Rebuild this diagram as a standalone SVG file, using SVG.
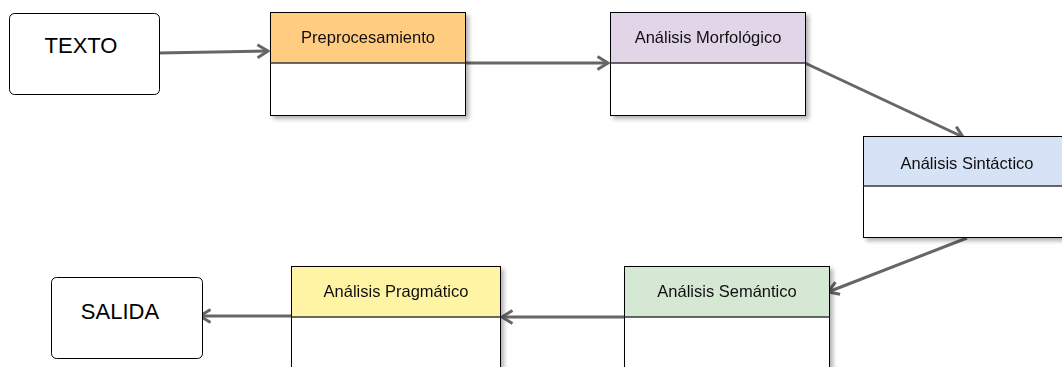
<svg xmlns="http://www.w3.org/2000/svg" width="1062" height="367" viewBox="0 0 1062 367">
  <style>
    .term { fill: #ffffff; stroke: #000000; stroke-width: 1; }
    .body { fill: #ffffff; stroke: #000000; stroke-width: 1; }
    .divider { stroke: #555555; stroke-width: 1.2; }
    .big { font-family: "Liberation Sans", Arial, sans-serif; font-size: 22px; fill: #000000; text-anchor: middle; }
    .head { font-family: "Liberation Sans", Arial, sans-serif; font-size: 16.5px; fill: #111111; text-anchor: middle; }
    .edge { fill: none; stroke: #666666; stroke-width: 3; marker-end: url(#open); }
  </style>
  <defs>
    <filter id="shadow" x="-10%" y="-10%" width="130%" height="140%">
      <feDropShadow dx="3" dy="3" stdDeviation="2" flood-color="#000000" flood-opacity="0.3"/>
    </filter>
    <marker id="open" viewBox="0 0 14 16" markerWidth="14" markerHeight="16" refX="12" refY="8" orient="auto" markerUnits="userSpaceOnUse">
      <path d="M1.5,1.5 L12,8 L1.5,14.5" fill="none" stroke="#666666" stroke-width="3" stroke-linejoin="miter"/>
    </marker>
  </defs>

  <!-- connectors -->
  <g id="connectors">
    <path class="edge" d="M159,53 L268,51"/>
    <path class="edge" d="M465,63 L608,63"/>
    <path class="edge" d="M805,63 L963,137"/>
    <path class="edge" d="M967,238 L828,292"/>
    <path class="edge" d="M624,317 L502,317"/>
    <path class="edge" d="M291,316 L200,316"/>
  </g>

  <!-- input terminal -->
  <g id="texto">
    <rect class="term" x="9.5" y="13.5" width="150" height="81" rx="5"/>
    <text class="big" x="81" y="53">TEXTO</text>
  </g>

  <!-- processing stages -->
  <g id="preprocesamiento" filter="url(#shadow)">
    <rect class="body" x="270.5" y="12.5" width="195" height="103"/>
    <rect x="270.5" y="12.5" width="195" height="50.5" fill="#ffcc80" stroke="#000000"/>
    <line class="divider" x1="270.5" y1="63" x2="465.5" y2="63"/>
    <text class="head" x="368" y="43">Preprocesamiento</text>
  </g>

  <g id="morfologico" filter="url(#shadow)">
    <rect class="body" x="610.5" y="12.5" width="195" height="103"/>
    <rect x="610.5" y="12.5" width="195" height="50.5" fill="#e1d5e7" stroke="#000000"/>
    <line class="divider" x1="610.5" y1="63" x2="805.5" y2="63"/>
    <text class="head" x="708" y="43">Análisis Morfológico</text>
  </g>

  <g id="sintactico" filter="url(#shadow)">
    <rect class="body" x="863.5" y="136.5" width="208" height="101"/>
    <rect x="863.5" y="136.5" width="208" height="49.5" fill="#d6e3f6" stroke="#000000"/>
    <line class="divider" x1="863.5" y1="186" x2="1071.5" y2="186"/>
    <text class="head" x="967" y="169">Análisis Sintáctico</text>
  </g>

  <g id="semantico" filter="url(#shadow)">
    <rect class="body" x="624.5" y="266.5" width="205" height="110"/>
    <rect x="624.5" y="266.5" width="205" height="50.5" fill="#d5e8d4" stroke="#000000"/>
    <line class="divider" x1="624.5" y1="317" x2="829.5" y2="317"/>
    <text class="head" x="727" y="297">Análisis Semántico</text>
  </g>

  <g id="pragmatico" filter="url(#shadow)">
    <rect class="body" x="291.5" y="266.5" width="209" height="110"/>
    <rect x="291.5" y="266.5" width="209" height="50.5" fill="#fff4a3" stroke="#000000"/>
    <line class="divider" x1="291.5" y1="317" x2="500.5" y2="317"/>
    <text class="head" x="396" y="297">Análisis Pragmático</text>
  </g>

  <!-- output terminal -->
  <g id="salida">
    <rect class="term" x="51.5" y="277.5" width="151" height="81" rx="5"/>
    <text class="big" x="120" y="319">SALIDA</text>
  </g>
</svg>
